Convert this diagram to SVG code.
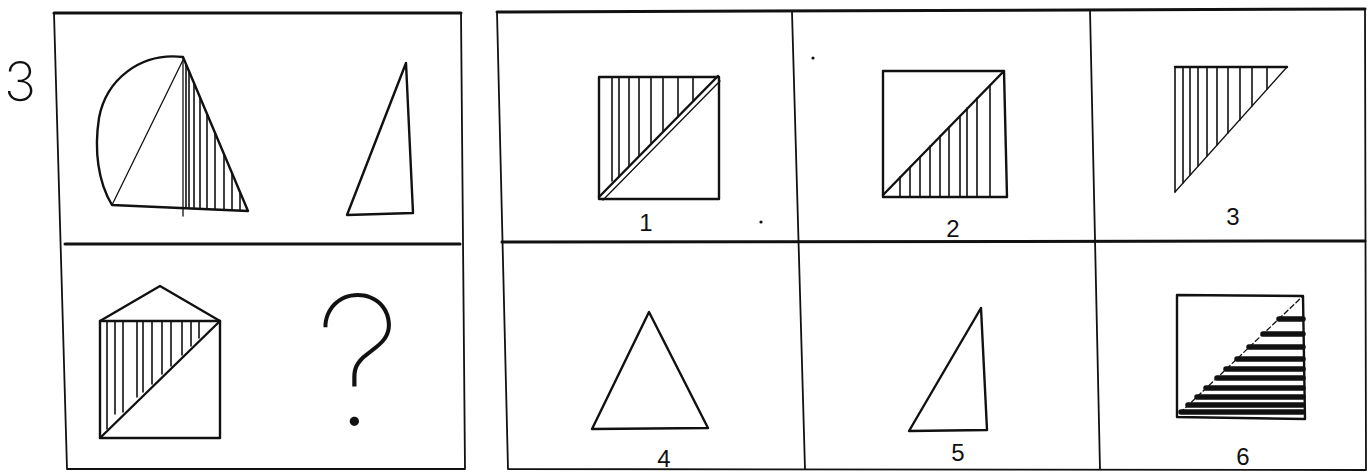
<svg xmlns="http://www.w3.org/2000/svg" width="1368" height="472" viewBox="0 0 1368 472">
<style>
.bg{fill:#fff}
.frame{fill:none;stroke:#111;stroke-width:1.8;stroke-linecap:round}
.thick{fill:none;stroke:#111;stroke-width:3;stroke-linecap:round}
.shape{fill:none;stroke:#111;stroke-width:2.4;stroke-linejoin:round;stroke-linecap:round}
.thin{fill:none;stroke:#111;stroke-width:1.3;stroke-linecap:round}
.hatch{fill:none;stroke:#111;stroke-width:1.6;stroke-linecap:round}
.bar{fill:none;stroke:#111;stroke-width:5.5;stroke-linecap:round}
.num{font-family:"Liberation Sans",Arial,sans-serif;fill:#111;text-anchor:middle}
</style>
<rect class="bg" x="0" y="0" width="1368" height="472"/>

<g id="frames">
  <text class="num" x="20" y="101" font-size="54" style="font-weight:200;font-family:Inter,'Liberation Sans',sans-serif">3</text>
  <path class="thick" d="M54,13 L461,13"/>
  <path class="frame" d="M54,13 L67,469 M461,13 L465,469 M67,469 L465,469"/>
  <path class="thick" d="M65,244 L460,244"/>
  <path class="thick" d="M497,12 L1365,9"/>
  <path class="frame" d="M497,12 L508,469 M1365,9 L1366,470 M508,469 L1366,470"/>
  <path class="frame" d="M792,12 L805,469 M1090,10 L1100,469"/>
  <path class="thick" d="M502,242 L1365,241"/>
</g>

<g id="q-figure-a">
  <path class="shape" d="M183,57 C140,52 106,80 99,118 C94,150 98,182 112,205 L248,211 Z"/>
  <path class="thin" d="M112,205 L183,60"/>
  <path class="thin" d="M183,57 L183,216"/>
  <path class="hatch" d="M186,64 V208 M189,71 V208 M194,83 V208 M200,97 V209 M207,114 V209 M215,133 V209 M224,154 V210 M232,173 V210 M240,192 V210"/>
</g>

<g id="q-figure-b">
  <path class="shape" d="M406,63 L347,215 L413,213 Z"/>
</g>

<g id="q-figure-c">
  <path class="shape" d="M100,321 L160,286 L220,321"/>
  <path class="shape" d="M100,321 L220,321 L220,438 L100,438 Z"/>
  <path class="shape" d="M100,438 L220,321"/>
  <path class="hatch" d="M107,321 V429 M115,321 V414 M123,321 V412 M137,321 V397 M143,321 V392 M152,321 V384 M162,321 V374 M171,321 V366 M182,321 V355 M191,321 V346 M199,321 V338"/>
</g>

<g id="q-mark">
  <text class="num" x="358" y="425" font-size="180" style="font-weight:100;font-family:Inter,'Liberation Sans',sans-serif">?</text>
</g>

<g id="option-1">
  <path class="shape" d="M599,77 L719,77 L719,199 L599,199 Z"/>
  <path class="shape" d="M599,197 L718,76"/>
  <path class="thin" d="M603,200 L720,81"/>
  <path class="hatch" d="M612,77 V181 M619,77 V177 M629,77 V166 M639,77 V156 M651,77 V143 M663,77 V131 M678,77 V117 M693,77 V101"/>
  <text class="num" x="646" y="231" font-size="24">1</text>
  <circle cx="761" cy="222" r="1.6" fill="#111"/>
  <circle cx="813" cy="58" r="1.6" fill="#111"/>
</g>

<g id="option-2">
  <path class="shape" d="M883,71 L1004,71 L1007,197 L883,197 Z"/>
  <path class="shape" d="M883,195 L1004,71"/>
  <path class="hatch" d="M900,177 V197 M910,167 V197 M920,157 V197 M930,146 V197 M940,136 V197 M949,127 V197 M960,116 V197 M967,108 V197 M977,98 V197 M990,85 V197"/>
  <text class="num" x="953" y="237" font-size="24">2</text>
</g>

<g id="option-3">
  <path class="shape" d="M1175,67 L1287,67"/>
  <path class="thin" d="M1287,67 L1175,192"/>
  <path class="hatch" d="M1175,67 V192 M1183,67 V183 M1190,67 V175 M1198,67 V166 M1207,67 V156 M1217,67 V145 M1228,67 V133 M1240,67 V120 M1252,67 V106 M1267,67 V89"/>
  <text class="num" x="1233" y="225" font-size="24">3</text>
</g>

<g id="option-4">
  <path class="shape" d="M649,312 L592,429 L708,428 Z"/>
  <text class="num" x="664" y="467" font-size="24">4</text>
</g>

<g id="option-5">
  <path class="shape" d="M981,308 L909,431 L987,430 Z"/>
  <text class="num" x="958" y="461" font-size="24">5</text>
</g>

<g id="option-6">
  <path class="shape" d="M1177,295 L1303,296 L1305,419 L1177,417 Z"/>
  <path class="thin" d="M1180,413 L1303,296" stroke-dasharray="5 3"/>
  <path class="bar" d="M1279,319 H1303 M1263,334 H1303 M1249,347 H1303 M1237,359 H1303 M1226,369 H1303 M1217,378 H1303 M1206,388 H1303 M1197,397 H1303 M1188,405 H1303 M1181,412 H1303"/>
  <text class="num" x="1243" y="465" font-size="24">6</text>
</g>
</svg>
